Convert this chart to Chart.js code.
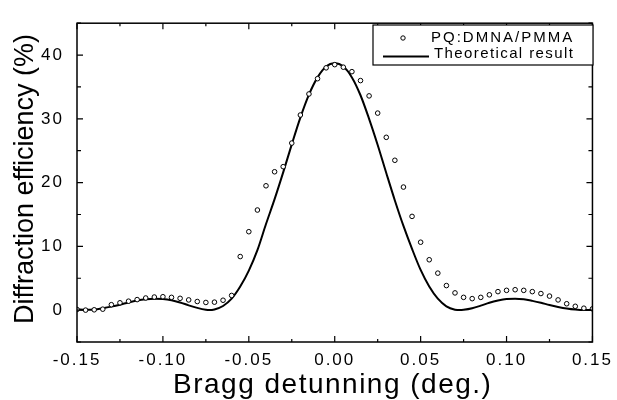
<!DOCTYPE html>
<html>
<head>
<meta charset="utf-8">
<script src="https://cdn.jsdelivr.net/npm/chart.js@4"></script>
<style>
  html, body { margin: 0; padding: 0; background: #fff; }
  #wrap { width: 617px; height: 400px; }
</style>
</head>
<body>
<div id="wrap"><canvas id="chart" width="617" height="400"></canvas></div>
<script>
// measured points (deg., %)
const expX = [-0.150, -0.145, -0.140, -0.135, -0.130, -0.125, -0.120, -0.115, -0.110, -0.105,
  -0.100, -0.095, -0.090, -0.085, -0.080, -0.075, -0.070, -0.065, -0.060, -0.055,
  -0.050, -0.045, -0.040, -0.035, -0.030, -0.025, -0.020, -0.015, -0.010, -0.005,
  0.000, 0.005, 0.010, 0.015, 0.020, 0.025, 0.030, 0.035, 0.040, 0.045,
  0.050, 0.055, 0.060, 0.065, 0.070, 0.075, 0.080, 0.085, 0.090, 0.095,
  0.100, 0.105, 0.110, 0.115, 0.120, 0.125, 0.130, 0.135, 0.140, 0.145, 0.150];
const expY = [0.1, 0.0, 0.05, 0.15, 0.85, 1.15, 1.4, 1.65, 1.9, 2.05,
  2.1, 2.0, 1.85, 1.6, 1.35, 1.2, 1.25, 1.55, 2.3, 8.4,
  12.3, 15.7, 19.5, 21.7, 22.5, 26.2, 30.6, 33.9, 36.3, 38.0,
  38.5, 38.1, 37.4, 36.0, 33.6, 30.9, 27.1, 23.5, 19.3, 14.7,
  10.65, 7.9, 5.8, 3.85, 2.7, 2.0, 1.8, 2.0, 2.4, 2.9,
  3.1, 3.2, 3.1, 2.9, 2.6, 2.2, 1.6, 1.0, 0.6, 0.3, 0.2];

// theoretical curve
const theoX = [-0.150, -0.145, -0.140, -0.135, -0.130, -0.125, -0.120, -0.115, -0.110, -0.105,
  -0.100, -0.095, -0.090, -0.085, -0.080, -0.075, -0.073, -0.070, -0.065, -0.060,
  -0.055, -0.050, -0.045, -0.040, -0.035, -0.030, -0.025, -0.020, -0.015, -0.010,
  -0.005, 0.000, 0.005, 0.010, 0.015, 0.020, 0.025, 0.030, 0.035, 0.040,
  0.045, 0.050, 0.055, 0.060, 0.065, 0.070, 0.073, 0.075, 0.080, 0.085,
  0.090, 0.095, 0.100, 0.105, 0.110, 0.115, 0.120, 0.125, 0.130, 0.135,
  0.140, 0.145, 0.150];
const theoY = [0.15, 0.05, 0.1, 0.3, 0.55, 0.85, 1.2, 1.5, 1.7, 1.8,
  1.75, 1.55, 1.2, 0.75, 0.35, 0.05, 0.0, 0.1, 0.65, 1.8,
  3.7, 6.2, 9.4, 13.5, 17.4, 21.6, 26.0, 30.2, 33.8, 36.5,
  38.2, 38.7, 38.2, 36.5, 33.7, 30.0, 25.9, 21.5, 17.2, 13.2,
  9.6, 6.3, 3.7, 1.8, 0.6, 0.07, 0.0, 0.05, 0.3, 0.7,
  1.15, 1.5, 1.75, 1.8, 1.7, 1.45, 1.15, 0.8, 0.5, 0.25,
  0.08, 0.0, 0.0];

const xTicks = [-0.15, -0.10, -0.05, 0.00, 0.05, 0.10, 0.15];
const yTicks = [0, 10, 20, 30, 40];
const seriesNames = ["PQ:DMNA/PMMA", "Theoretical result"];
const xTitle = "Bragg detunning (deg.)";
const yTitle = "Diffraction efficiency (%)";

const FONT = "'Liberation Sans', Arial, sans-serif";

// spaced-out lettering like the original plot software
const spacingPlugin = {
  id: "spacing",
  beforeDraw(chart) {
    chart.ctx.letterSpacing = "2px";
  }
};

// frame with inward ticks on all four sides + axis titles
const framePlugin = {
  id: "frame",
  afterDraw(chart) {
    const { ctx, chartArea: a, scales } = chart;
    ctx.save();
    ctx.strokeStyle = "#000";
    ctx.lineWidth = 1.5;
    ctx.strokeRect(a.left, a.top, a.right - a.left, a.bottom - a.top);
    ctx.lineWidth = 1.2;
    ctx.beginPath();
    for (let i = 0; i <= 12; i++) {
      const v = -0.15 + i * 0.025;
      const px = scales.x.getPixelForValue(v);
      const len = i % 2 === 0 ? 6 : 3;
      ctx.moveTo(px, a.bottom); ctx.lineTo(px, a.bottom - len);
      ctx.moveTo(px, a.top); ctx.lineTo(px, a.top + len);
    }
    for (let v = -5; v <= 45; v += 5) {
      const py = scales.y.getPixelForValue(v);
      const len = v % 10 === 0 ? 6 : 4;
      ctx.moveTo(a.left, py); ctx.lineTo(a.left + len, py);
      ctx.moveTo(a.right, py); ctx.lineTo(a.right - len, py);
    }
    ctx.stroke();

    ctx.fillStyle = "#000";
    ctx.textAlign = "center";
    ctx.textBaseline = "alphabetic";
    ctx.letterSpacing = "1.5px";
    ctx.font = "28px " + FONT;
    ctx.fillText(xTitle, (a.left + a.right) / 2 - 2, 393);
    ctx.letterSpacing = "0px";
    ctx.translate(33, 179);
    ctx.rotate(-Math.PI / 2);
    ctx.font = "27px " + FONT;
    ctx.fillText(yTitle, 0, 0);
    ctx.restore();
  }
};

// boxed legend inside the plot, top right
const legendPlugin = {
  id: "boxLegend",
  afterDraw(chart) {
    const { ctx } = chart;
    const x0 = 373, y0 = 25, x1 = 593, y1 = 65;
    ctx.save();
    ctx.fillStyle = "#fff";
    ctx.fillRect(x0, y0, x1 - x0, y1 - y0);
    ctx.strokeStyle = "#000";
    ctx.lineWidth = 1.2;
    ctx.strokeRect(x0, y0, x1 - x0, y1 - y0);
    ctx.beginPath();
    ctx.arc(403, 38, 2.2, 0, Math.PI * 2);
    ctx.lineWidth = 1;
    ctx.stroke();
    ctx.beginPath();
    ctx.lineWidth = 2;
    ctx.moveTo(383, 56.5); ctx.lineTo(429, 56.5);
    ctx.stroke();
    ctx.fillStyle = "#000";
    ctx.font = "15px " + FONT;
    ctx.textBaseline = "alphabetic";
    ctx.letterSpacing = "2px";
    ctx.fillText(seriesNames[0], 431, 42);
    ctx.letterSpacing = "1.4px";
    ctx.fillText(seriesNames[1], 434, 58);
    ctx.restore();
  }
};

new Chart(document.getElementById("chart"), {
  type: "scatter",
  data: {
    datasets: [
      {
        label: seriesNames[1],
        data: theoX.map((x, i) => ({ x: x, y: theoY[i] })),
        showLine: true,
        borderColor: "#000",
        borderWidth: 2,
        pointRadius: 0,
        cubicInterpolationMode: "monotone",
        order: 2,
      },
      {
        label: seriesNames[0],
        data: expX.map((x, i) => ({ x: x, y: expY[i] })),
        showLine: false,
        borderColor: "#000",
        backgroundColor: "#fff",
        borderWidth: 1,
        pointRadius: 2.3,
        order: 1,
      },
    ],
  },
  options: {
    responsive: false,
    animation: false,
    layout: { padding: { top: 13, right: 21, left: 0, bottom: 0 } },
    scales: {
      x: {
        type: "linear",
        min: -0.15,
        max: 0.15,
        afterBuildTicks: (s) => { s.ticks = xTicks.map(v => ({ value: v })); },
        afterFit: (s) => { s.height = 58; },
        grid: { display: false, drawTicks: false },
        border: { display: false },
        ticks: {
          color: "#000",
          padding: 8,
          maxRotation: 0,
          font: { family: FONT, size: 17 },
          callback: (v) => Number(v).toFixed(2),
        },
      },
      y: {
        min: -5,
        max: 45,
        afterBuildTicks: (s) => { s.ticks = yTicks.map(v => ({ value: v })); },
        afterFit: (s) => { s.width = 77; },
        grid: { display: false, drawTicks: false },
        border: { display: false },
        ticks: {
          color: "#000",
          padding: 13,
          font: { family: FONT, size: 17 },
        },
      },
    },
    plugins: {
      legend: { display: false },
      tooltip: { enabled: false },
    },
  },
  plugins: [spacingPlugin, framePlugin, legendPlugin],
});
</script>
</body>
</html>
